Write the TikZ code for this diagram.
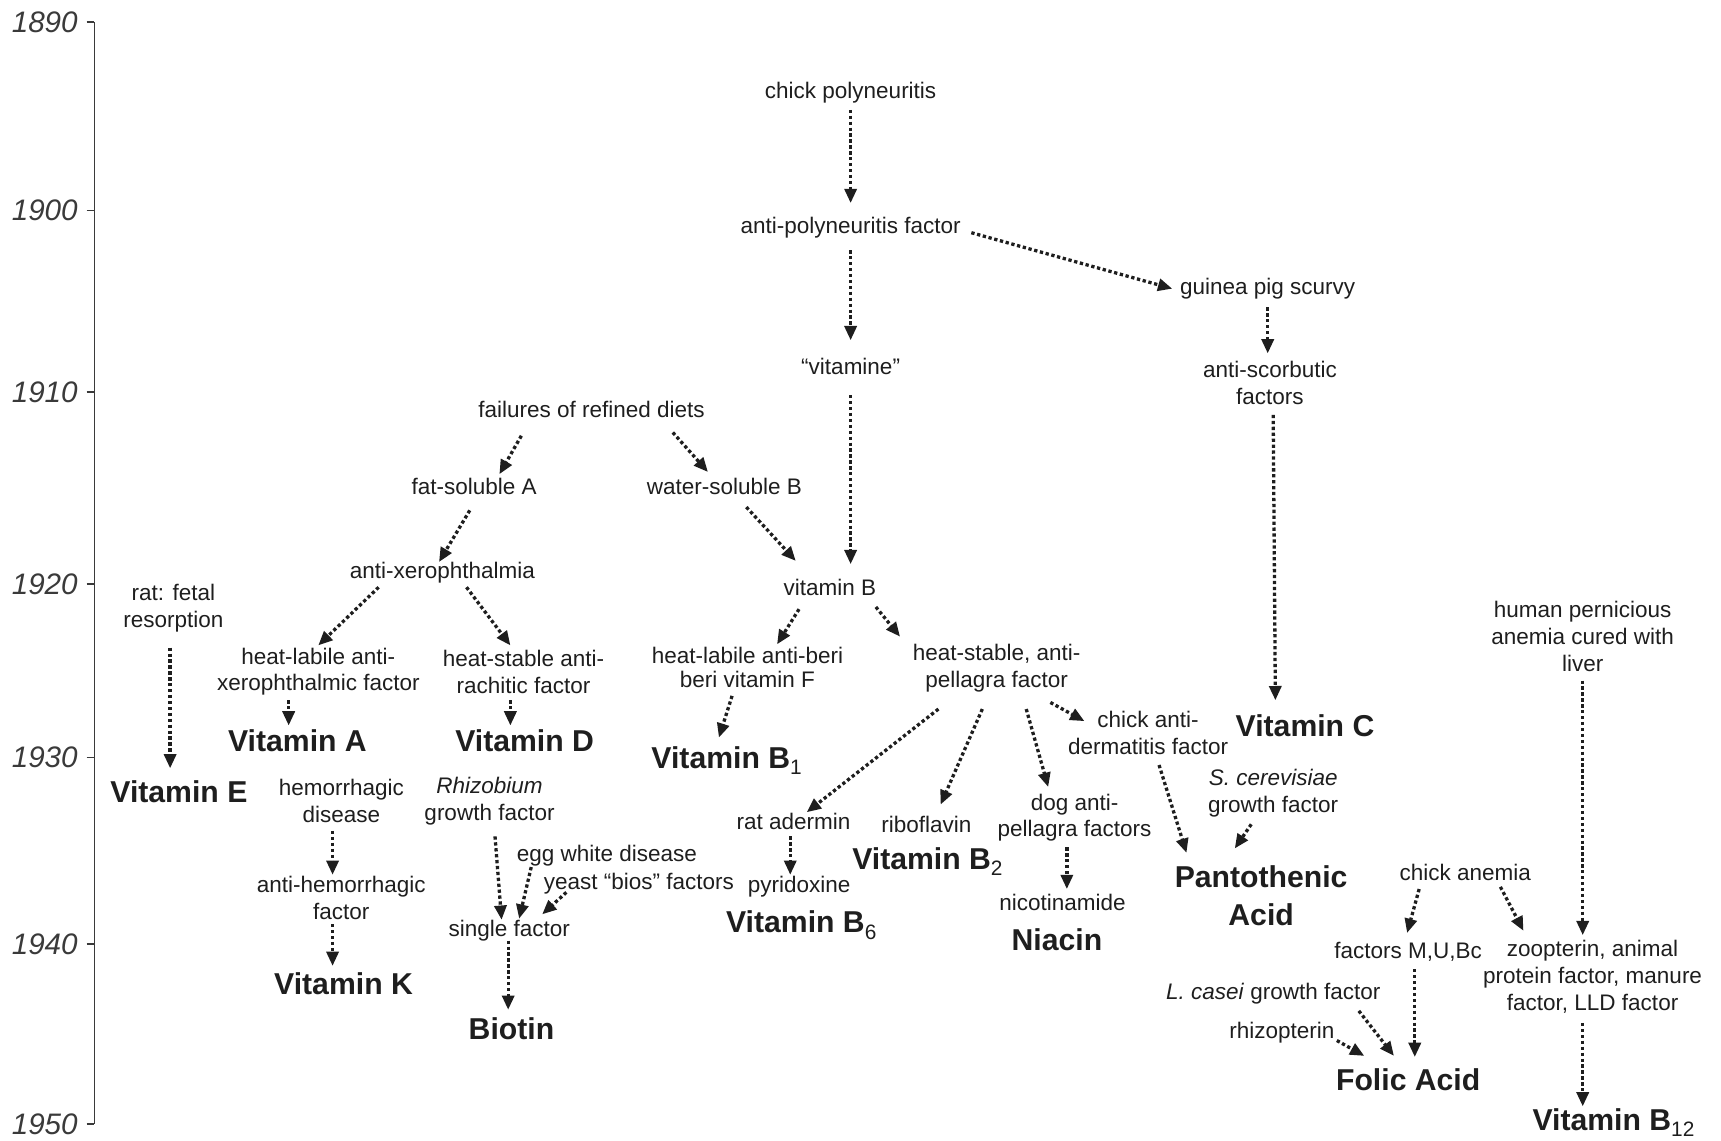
\documentclass[tikz,border=0pt]{standalone}
\usepackage{fontspec}
\setmainfont{Liberation Sans}
\usetikzlibrary{arrows.meta,calc}
\definecolor{ink}{HTML}{1E1E1E}
\definecolor{yr}{HTML}{3A3A3A}
\newcommand\vsub[1]{\smash{\raisebox{-6pt}{\fontsize{19}{19}\selectfont\mdseries #1}}}
\begin{document}
\begin{tikzpicture}[x=1pt,y=-1pt,
 lbl/.style={inner sep=0pt, align=center, text=ink, font=\fontsize{20.5}{24.5}\selectfont},
 vit/.style={inner sep=0pt, align=center, text=ink, font=\fontsize{27.5}{35}\selectfont\bfseries},
 yrlbl/.style={inner sep=0pt, anchor=east, text=yr, font=\fontsize{27}{32}\selectfont\itshape},
 arr/.style={draw=ink, line width=3pt, dash pattern=on 3pt off 2.4pt, -{Triangle[length=13pt,width=11pt]}}
]
\useasboundingbox (0,0) rectangle (1568,1039);
% time axis
\draw[yr, line width=1.3pt] (86,20) -- (86,1024);
\foreach \yy/\yl in {20/1890,192/1900,357/1910,532/1920,690/1930,860/1940,1024/1950}{
  \draw[yr, line width=1.3pt] (79,\yy) -- (86,\yy);
  \node[yrlbl] (y\yl) at (71,\yy) {\yl};
}
% nodes
\node[lbl] (cp) at (775,84) {chick polyneuritis};
\node[lbl] (apf) at (775,207) {anti-polyneuritis factor};
\node[lbl] (vitamine) at (775,334) {“vitamine”};
\node[lbl] (gps) at (1155,263) {guinea pig scurvy};
\node[lbl] (asf) at (1157,349) {anti-scorbutic\\factors};
\node[vit] (vitC) at (1189,661) {Vitamin C};
\node[lbl] (fail) at (539,373) {failures of refined diets};
\node[lbl] (fsA) at (432,443) {fat-soluble A};
\node[lbl] (wsB) at (660,443) {water-soluble B};
\node[lbl] (axero) at (403,522) {anti-xerophthalmia};
\node[lbl] (vitB) at (756,535) {vitamin B};
\node[lbl] (hlax) at (290,612) {heat-labile anti-\\xerophthalmic factor};
\node[lbl] (hsar) at (477,612) {heat-stable anti-\\rachitic factor};
\node[vit] (vitA) at (271,675) {Vitamin A};
\node[vit] (vitD) at (478,675) {Vitamin D};
\node[lbl] (rat) at (158,554) {rat: fetal\\resorption};
\node[vit] (vitE) at (163,721) {Vitamin E};
\node[lbl, font=\fontsize{20.5}{22.5}\selectfont] (hlab) at (681,608) {heat-labile anti-beri\\beri vitamin F};
\node[lbl] (hsap) at (908,609) {heat-stable, anti-\\pellagra factor};
\node[vit] (vitB1) at (662,690) {Vitamin B\vsub{1}};
\node[lbl] (chad) at (1046,668) {chick anti-\\dermatitis factor};
\node[lbl] (hemo) at (311,730) {hemorrhagic\\disease};
\node[lbl] (rhiz) at (446,730) {\textit{Rhizobium}\\growth factor};
\node[lbl] (ahf) at (311,818) {anti-hemorrhagic\\factor};
\node[vit] (vitK) at (313,896) {Vitamin K};
\node[lbl] (egg) at (553,780) {egg white disease};
\node[lbl] (yeast) at (582,805) {yeast “bios” factors};
\node[lbl] (single) at (464,848) {single factor};
\node[vit] (biotin) at (466,937) {Biotin};
\node[lbl] (rad) at (723,748) {rat adermin};
\node[lbl] (pyr) at (728,808) {pyridoxine};
\node[vit] (vitB6) at (730,840) {Vitamin B\vsub{6}};
\node[lbl] (ribo) at (844,751) {riboflavin};
\node[vit] (vitB2) at (845,782) {Vitamin B\vsub{2}};
\node[lbl] (dog) at (979,745) {dog anti-\\pellagra factors};
\node[lbl] (nic) at (968,822) {nicotinamide};
\node[vit] (niacin) at (963,856) {Niacin};
\node[lbl] (scer) at (1160,723) {\textit{S. cerevisiae}\\growth factor};
\node[vit] (panto) at (1149,816) {Pantothenic\\Acid};
\node[lbl] (chan) at (1335,795) {chick anemia};
\node[lbl] (hpa) at (1442,580) {human pernicious\\anemia cured with\\liver};
\node[lbl] (mub) at (1283,867) {factors M,U,Bc};
\node[lbl] (zoo) at (1451,890) {zoopterin, animal\\protein factor, manure\\factor, LLD factor};
\node[lbl] (lcasei) at (1160,905) {\textit{L. casei} growth factor};
\node[lbl] (rhizo) at (1168,941) {rhizopterin};
\node[vit] (folic) at (1283,984) {Folic Acid};
\node[vit] (vitB12) at (1470,1020) {Vitamin B\vsub{12}};
% connectors
\draw[arr] ($(cp)+(0,16)$) -- ($(apf)+(0,-22)$);
\draw[arr] ($(apf)+(0,21)$) -- ($(vitamine)+(0,-24)$);
\draw[arr] ($(apf)+(110,5)$) -- ($(gps)+(-87,0)$);
\draw[arr] ($(gps)+(0,17)$) -- ($(asf)+(-2,-27)$);
\draw[arr] ($(asf)+(3,29)$) -- ($(vitC)+(-27,-23)$);
\draw[arr] ($(vitamine)+(0,26)$) -- ($(vitB)+(19,-21)$);
\draw[arr] ($(fail)+(-64,24)$) -- ($(fsA)+(23,-11)$);
\draw[arr] ($(fail)+(74,21)$) -- ($(wsB)+(-15,-13)$);
\draw[arr] ($(fsA)+(-4,22)$) -- ($(axero)+(-3,-10)$);
\draw[arr] ($(wsB)+(20,19)$) -- ($(vitB)+(-31,-24)$);
\draw[arr] ($(axero)+(-58,13)$) -- ($(hlax)+(0,-24)$);
\draw[arr] ($(axero)+(22,13)$) -- ($(hsar)+(-12,-24)$);
\draw[arr] ($(hlax)+(-27,26)$) -- ($(vitA)+(-8,-14)$);
\draw[arr] ($(hsar)+(-12,26)$) -- ($(vitD)+(-13,-14)$);
\draw[arr] ($(rat)+(-3,36)$) -- ($(vitE)+(-8,-21)$);
\draw[arr] ($(vitB)+(-28,20)$) -- ($(hlab)+(27,-21)$);
\draw[arr] ($(vitB)+(42,18)$) -- ($(hsap)+(-88,-29)$);
\draw[arr] ($(hlab)+(-14,26)$) -- ($(vitB1)+(-7,-18)$);
\draw[arr] ($(hsap)+(49,31)$) -- ($(chad)+(-58,-11)$);
\draw[arr] ($(hsap)+(-53,37)$) -- ($(rad)+(12,-8)$);
\draw[arr] ($(hsap)+(-13,37)$) -- ($(ribo)+(13,-18)$);
\draw[arr] ($(hsap)+(27,37)$) -- ($(dog)+(-24,-28)$);
\draw[arr] ($(chad)+(10,29)$) -- ($(panto)+(-68,-39)$);
\draw[arr] ($(scer)+(-20,28)$) -- ($(panto)+(-24,-43)$);
\draw[arr] ($(hemo)+(-8,27)$) -- ($(ahf)+(-8,-21)$);
\draw[arr] ($(ahf)+(-8,24)$) -- ($(vitK)+(-10,-16)$);
\draw[arr] ($(rhiz)+(5,32)$) -- ($(single)+(-7,-10)$);
\draw[arr] ($(egg)+(-69,10)$) -- ($(single)+(9,-11)$);
\draw[arr] ($(yeast)+(-66,8)$) -- ($(single)+(30,-15)$);
\draw[arr] ($(single)+(-1,9)$) -- ($(biotin)+(-3,-17)$);
\draw[arr] ($(rad)+(-3,14)$) -- ($(pyr)+(-8,-11)$);
\draw[arr] ($(dog)+(-7,27)$) -- ($(nic)+(4,-12)$);
\draw[arr] ($(chan)+(-42,15)$) -- ($(mub)+(-1,-17)$);
\draw[arr] ($(chan)+(32,13)$) -- ($(zoo)+(-63,-42)$);
\draw[arr] ($(hpa)+(0,40)$) -- ($(zoo)+(-9,-38)$);
\draw[arr] ($(mub)+(6,16)$) -- ($(folic)+(6,-21)$);
\draw[arr] ($(lcasei)+(78,16)$) -- ($(folic)+(-13,-22)$);
\draw[arr] ($(rhizo)+(50,7)$) -- ($(folic)+(-40,-22)$);
\draw[arr] ($(zoo)+(-9,42)$) -- ($(vitB12)+(-28,-12)$);
\end{tikzpicture}
\end{document}
